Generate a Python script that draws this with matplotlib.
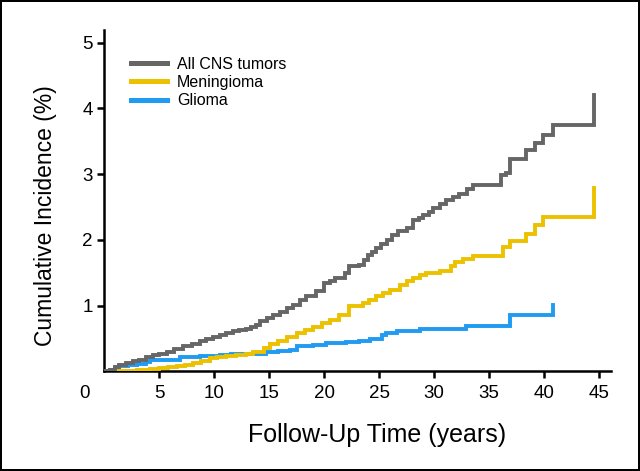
import matplotlib
matplotlib.use("Agg")
import matplotlib.pyplot as plt
from matplotlib.transforms import blended_transform_factory
from matplotlib.lines import Line2D

# ---- data ----
labels = ["All CNS tumors", "Meningioma", "Glioma"]

all_t = [0, 0.5, 1.0, 1.4, 2.0, 2.6, 3.2, 3.8, 4.45, 5.0, 5.7, 6.4, 7.2, 8.0, 8.7, 9.3,
         9.9, 10.5, 11.1, 11.7, 12.3, 12.9, 13.4, 13.8, 14.15, 14.8, 15.4, 16.0, 16.6,
         17.2, 17.8, 18.4, 19.3, 20.0, 20.5, 21.0, 21.9, 22.3, 23.2, 23.6, 24.0, 24.4,
         24.75, 25.2, 25.7, 26.2, 26.7, 27.5, 28.1, 28.6, 29.0, 29.5, 29.9, 30.5, 31.1,
         31.7, 32.3, 33.0, 33.5, 36.1, 36.5, 36.9, 38.35, 39.2, 39.9, 40.85, 44.5]
all_v = [0, 0.03, 0.07, 0.10, 0.13, 0.155, 0.18, 0.215, 0.25, 0.27, 0.30, 0.34, 0.38,
         0.42, 0.456, 0.49, 0.53, 0.56, 0.59, 0.61, 0.63, 0.65, 0.67, 0.71, 0.76, 0.81,
         0.86, 0.90, 0.97, 1.01, 1.08, 1.14, 1.22, 1.34, 1.38, 1.42, 1.49, 1.60, 1.62,
         1.70, 1.77, 1.82, 1.87, 1.93, 2.00, 2.07, 2.13, 2.18, 2.30, 2.34, 2.38, 2.43,
         2.48, 2.55, 2.60, 2.65, 2.70, 2.78, 2.84, 2.98, 3.02, 3.23, 3.36, 3.47, 3.60,
         3.75, 4.20]

men_t = [0, 1.0, 2.0, 3.0, 3.5, 4.2, 5.0, 5.8, 6.6, 7.4, 8.1, 8.8, 9.6, 10.3, 11.1, 12.0,
         12.9, 13.5, 13.85, 14.5, 15.1, 15.8, 16.6, 17.5, 18.3, 19.0, 19.8, 20.5, 21.4,
         22.3, 23.5, 24.1, 24.75, 25.4, 26.0, 26.9, 27.5, 28.1, 28.7, 29.3, 30.5, 31.5,
         31.9, 32.6, 33.5, 36.3, 36.9, 38.35, 39.2, 39.9, 44.5]
men_v = [0, 0.005, 0.01, 0.02, 0.025, 0.035, 0.05, 0.065, 0.086, 0.105, 0.127, 0.16,
         0.20, 0.215, 0.23, 0.25, 0.27, 0.29, 0.30, 0.36, 0.42, 0.47, 0.53, 0.58, 0.63,
         0.68, 0.73, 0.785, 0.86, 0.99, 1.04, 1.09, 1.14, 1.19, 1.24, 1.32, 1.37, 1.42,
         1.46, 1.49, 1.53, 1.60, 1.66, 1.71, 1.76, 1.89, 1.98, 2.09, 2.22, 2.35, 2.79]

gli_t = [0, 0.5, 1.0, 1.4, 2.2, 3.0, 3.85, 4.15, 5.5, 6.9, 8.7, 10.5, 11.5, 12.3, 14.75,
         15.8, 16.9, 17.5, 19.0, 20.2, 22.0, 23.2, 24.2, 25.3, 25.6, 26.6, 28.7, 32.9,
         36.9, 40.85]
gli_v = [0, 0.025, 0.05, 0.076, 0.10, 0.12, 0.137, 0.167, 0.172, 0.218, 0.228, 0.243,
         0.26, 0.27, 0.294, 0.31, 0.33, 0.38, 0.405, 0.43, 0.445, 0.47, 0.49, 0.55, 0.58,
         0.61, 0.64, 0.69, 0.86, 1.01]

x_ticks = [5, 10, 15, 20, 25, 30, 35, 40, 45]
y_ticks = [1, 2, 3, 4, 5]

colors = ["#666666", "#EBC100", "#1F9BF2"]

# ---- figure ----
plt.rcParams['font.family'] = ['Liberation Sans', 'DejaVu Sans']

fig = plt.figure(figsize=(6.4, 4.71), dpi=100)
fig.patch.set_edgecolor('black')
fig.patch.set_linewidth(1.5)
ax = fig.add_axes([0.1625, 0.2113, 0.7917, 0.7250])

lw = 2.8
ax.step(gli_t, gli_v, where='post', color=colors[2], lw=lw, solid_joinstyle='miter', zorder=3)
ax.step(men_t, men_v, where='post', color=colors[1], lw=lw, solid_joinstyle='miter', zorder=4)
ax.step(all_t, all_v, where='post', color=colors[0], lw=lw, solid_joinstyle='miter', zorder=5)

ax.set_xlim(0, 46.06)
ax.set_ylim(0, 5.19)
ax.set_xticks(x_ticks)
ax.set_xticklabels([str(t) for t in x_ticks])
ax.set_yticks(y_ticks)
ax.set_yticklabels([str(t) for t in y_ticks])

for s in ['top', 'right']:
    ax.spines[s].set_visible(False)
for s in ['left', 'bottom']:
    ax.spines[s].set_linewidth(1.8)
ax.tick_params(axis='both', direction='out', length=5, width=1.8, labelsize=13.5,
               colors='black')
ax.tick_params(axis='x', pad=4.5)
ax.tick_params(axis='y', pad=3)

# origin "0" label
trans = blended_transform_factory(ax.transData, ax.transAxes)
ax.text(-1.75, -0.0395, "0", transform=trans, ha='center', va='top', fontsize=13.5)

ax.set_xlabel("Follow-Up Time (years)", fontsize=18)
ax.xaxis.set_label_coords(0.539, -0.186)
ax.xaxis.label.set_va('center')
ax.set_ylabel("Cumulative Incidence (%)", fontsize=16.5)
ax.yaxis.set_label_coords(-0.1164, 0.455)
ax.yaxis.label.set_va('center')

handles = [Line2D([0], [0], color=c, lw=3.6) for c in colors]
leg = ax.legend(handles, labels, loc='upper left', bbox_to_anchor=(0.04, 0.94),
                frameon=False, fontsize=11.5, handlelength=2.3, handletextpad=0.6,
                labelspacing=0.2, borderaxespad=0)

fig.savefig("out.png", dpi=100)
